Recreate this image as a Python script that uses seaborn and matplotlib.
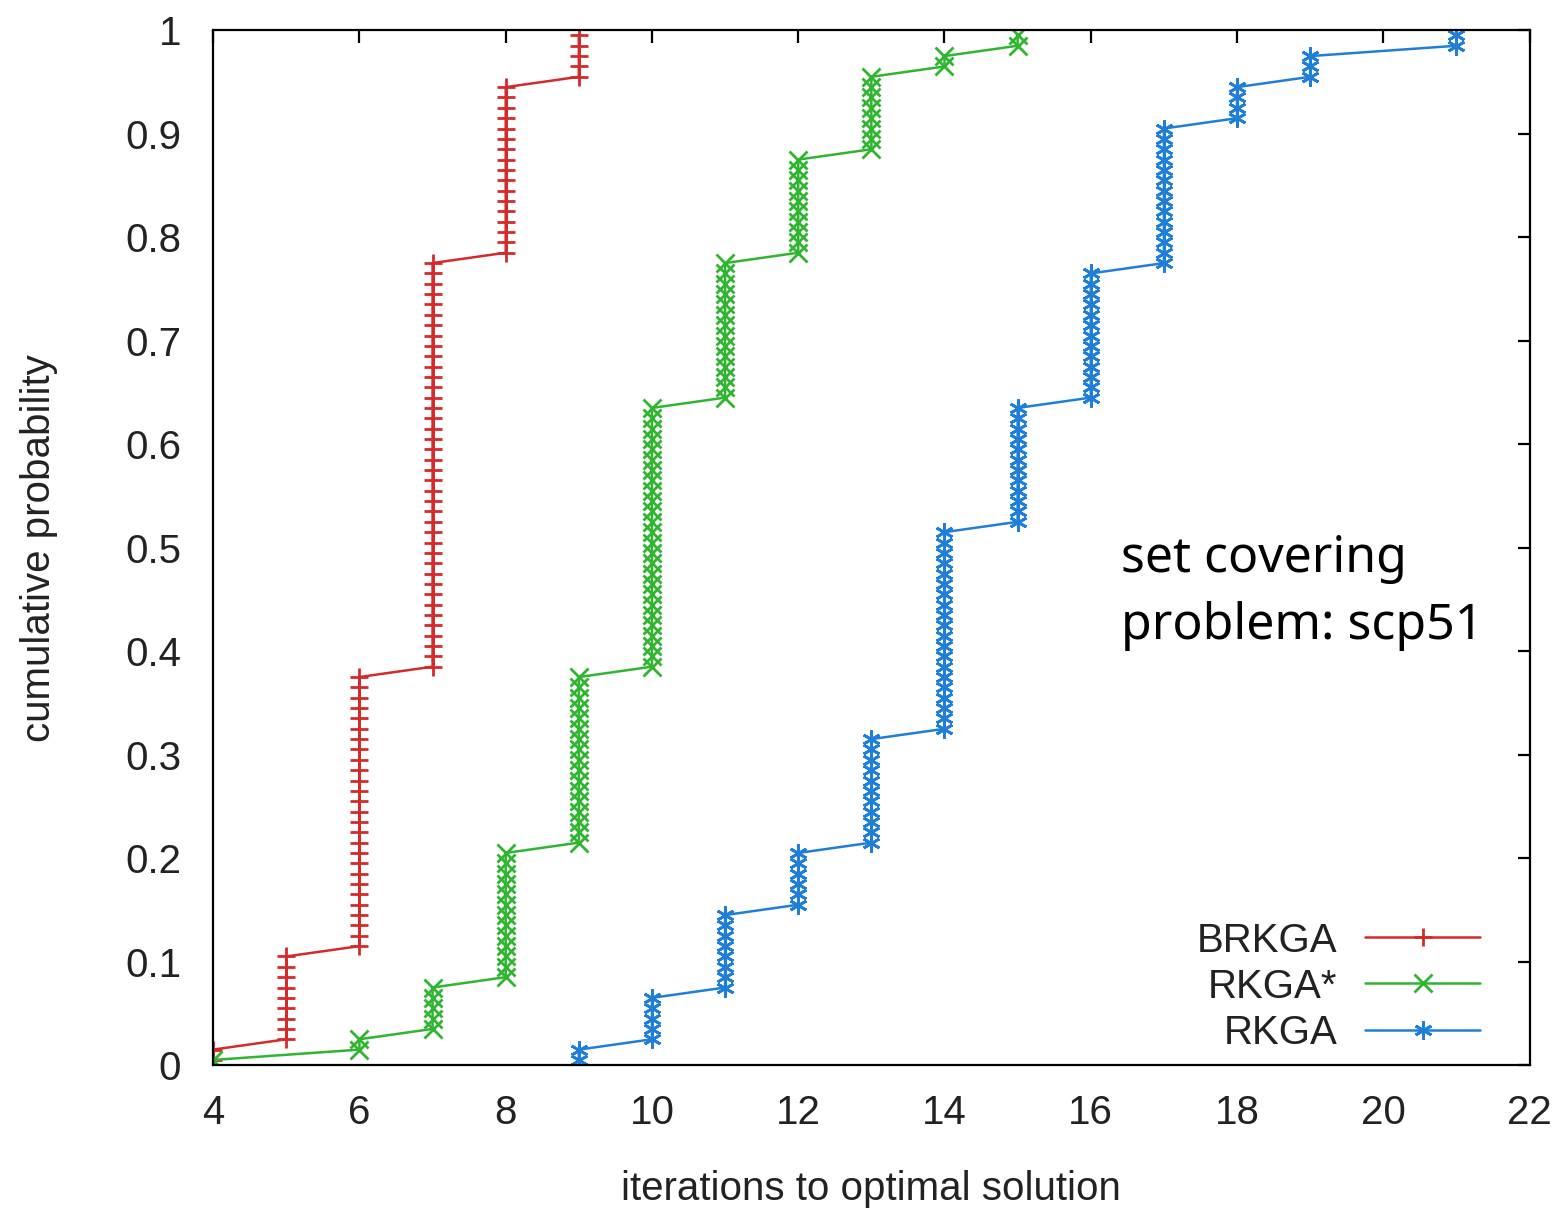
import numpy as np
import pandas as pd
import matplotlib
matplotlib.use("Agg")
import matplotlib.pyplot as plt
from matplotlib.ticker import FormatStrFormatter
import seaborn as sns

# ------------------------- Data (runs per iteration count) -------------------------
brkga_iters = [4, 5, 6, 7, 8, 9]
brkga_counts = [2, 9, 27, 40, 17, 5]

rkga_star_iters = [4, 6, 7, 8, 9, 10, 11, 12, 13, 14, 15]
rkga_star_counts = [1, 2, 5, 13, 17, 26, 14, 10, 8, 2, 2]

rkga_iters = [9, 10, 11, 12, 13, 14, 15, 16, 17, 18, 19, 21]
rkga_counts = [2, 5, 8, 6, 11, 20, 12, 13, 14, 4, 3, 2]

series = [
    ("BRKGA", brkga_iters, brkga_counts, "#d42a2a", "+"),
    ("RKGA*", rkga_star_iters, rkga_star_counts, "#2fb52f", "x"),
    ("RKGA", rkga_iters, rkga_counts, "#1f7fd8", (6, 2, 0)),
]


def ecdf_frame(iters, counts):
    # empirical cumulative probability, (i - 0.5) / n for the sorted runs
    x = np.repeat(iters, counts)
    n = len(x)
    p = (np.arange(1, n + 1) - 0.5) / n
    return pd.DataFrame({"iterations": x, "prob": p})


# ------------------------- Plot -------------------------
sns.set_style("white")
plt.rcParams["font.family"] = ["Liberation Sans", "DejaVu Sans"]

fig = plt.figure(figsize=(15.56, 12.09), dpi=100)
ax = fig.add_axes([0.137, 0.119, 0.846, 0.856])

for name, iters, counts, color, marker in series:
    df = ecdf_frame(iters, counts)
    sns.lineplot(data=df, x="iterations", y="prob", ax=ax, color=color,
                 estimator=None, sort=False, label=name, marker=marker,
                 markersize=13, markeredgewidth=2.0, markeredgecolor=color,
                 markerfacecolor=color, linewidth=1.8)

ax.set_xlim(4, 22)
ax.set_ylim(0, 1)
ax.set_xticks(np.arange(4, 23, 2))
ax.set_yticks(np.arange(0, 1.01, 0.1))
ax.yaxis.set_major_formatter(FormatStrFormatter("%g"))

for s in ax.spines.values():
    s.set_color("black")
    s.set_linewidth(1.6)
ax.tick_params(direction="in", length=9, width=1.6, top=True, right=True,
               labelsize=29, colors="black", labelcolor="#222222")
ax.tick_params(axis="y", pad=23)
ax.tick_params(axis="x", pad=21)

ax.set_xlabel("iterations to optimal solution", fontsize=29, labelpad=27,
              color="#222222")
ax.set_ylabel("cumulative probability", fontsize=29, labelpad=48,
              color="#222222")

ax.text(16.42, 0.457, "set covering\nproblem: scp51", fontsize=36,
        family=["Noto Sans", "DejaVu Sans"], va="center", ha="left",
        linespacing=1.45, color="black")

leg = ax.legend(loc="lower right", bbox_to_anchor=(0.99, -0.022), frameon=False,
                markerfirst=False, fontsize=29, handlelength=2.85,
                handletextpad=0.7, labelspacing=0.2, numpoints=1)
for t in leg.get_texts():
    t.set_ha("right")
    t.set_color("#222222")
leg._legend_box.align = "right"

fig.savefig("out.png", dpi=100, facecolor="white")
plt.close(fig)
